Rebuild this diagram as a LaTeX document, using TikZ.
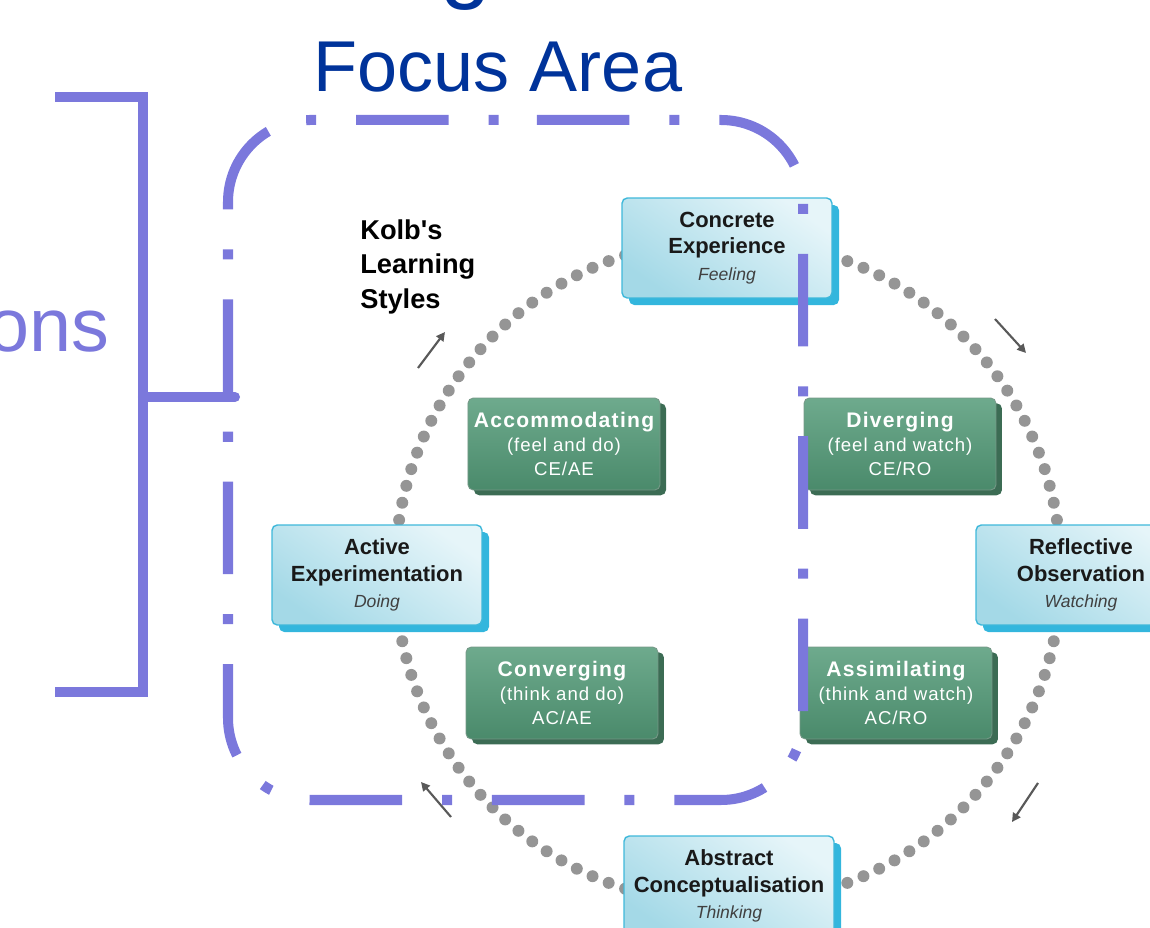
\documentclass[tikz,border=0pt]{standalone}
\usepackage{fontspec}
\setmainfont{Liberation Sans}
\usepackage{xcolor}
\usepackage{tikz}
\usetikzlibrary{arrows.meta,shadows}

\definecolor{focusblue}{HTML}{7B78DC}
\definecolor{titleblue}{HTML}{00339A}
\definecolor{dotgrey}{HTML}{959595}
\definecolor{stagehi}{HTML}{E6F5F9}
\definecolor{stagelo}{HTML}{A4D9E7}
\definecolor{stageline}{HTML}{3FB8DA}
\definecolor{stageside}{HTML}{33B6DD}
\definecolor{modehi}{HTML}{6EAA8D}
\definecolor{modelo}{HTML}{4A8A6B}
\definecolor{modeside}{HTML}{3C6C54}

\newcommand\stagesub[1]{{\fontsize{10}{15}\selectfont\mdseries\itshape\color{black!75}#1}}
\newcommand\modehead[1]{{\fontsize{12}{14}\selectfont\bfseries\addfontfeature{LetterSpace=6}#1}}

\tikzset{
  focusbox/.style  = {draw=focusblue, line width=5.7pt, rounded corners=1.64cm,
                      dash pattern=on 52.7pt off 22.7pt on 5.7pt off 22.7pt, dash phase=82.8pt},
  bracket/.style   = {draw=focusblue, line width=5.7pt},
  ringdot/.style   = {fill=dotgrey},
  stage/.style     = {draw=stageline, line width=0.8pt, rounded corners=3pt,
                      top color=stagehi, bottom color=stagelo, shading angle=-35,
                      minimum width=4.2cm, minimum height=2cm, align=center,
                      font=\fontsize{12.5}{15}\selectfont\bfseries, text=black!90,
                      drop shadow={shadow xshift=4pt, shadow yshift=-4pt, fill=stageside, opacity=1}},
  mode/.style      = {draw=modeside!70, line width=0.5pt, rounded corners=3pt,
                      top color=modehi, bottom color=modelo,
                      minimum width=3.84cm, minimum height=1.84cm, align=center, text=white,
                      font=\fontsize{10.6}{13.6}\selectfont\addfontfeature{LetterSpace=5},
                      drop shadow={shadow xshift=3.4pt, shadow yshift=-3pt, fill=modeside, opacity=1}},
  cyclearr/.style  = {-{Triangle[length=5pt,width=5pt]}, draw=black!65, line width=1.2pt},
  kolb/.style      = {font=\fontsize{15.5}{19.8}\selectfont\bfseries, align=left, anchor=north west, inner sep=0pt},
}

\begin{document}
\begin{tikzpicture}[x=0.02cm,y=-0.02cm]
  \useasboundingbox (0,0) rectangle (1150,928);
  \clip (0,0) rectangle (1150,928);

  % headings
  \node[anchor=base, inner sep=0pt, font=\fontsize{52}{60}\selectfont, text=titleblue] (headg) at (466,-8) {g};
  \node[anchor=base, inner sep=0pt, font=\fontsize{41}{49}\selectfont, text=titleblue] (focus) at (498,92) {Focus Area};
  \node[anchor=base east, inner sep=0pt, font=\fontsize{43}{50}\selectfont, text=focusblue] (ons) at (110,352) {ons};

  % bracket
  \draw[bracket] (55,97) -- (143,97) -- (143,692) -- (55,692);
  \draw[bracket, line cap=round] (143,397) -- (235,397);

  % dotted cycle
  \coordinate (ctr) at (728,572);
  \foreach \a in {0,3,...,357}
    \fill[ringdot] ([shift={(\a:333)}]ctr) circle (3.4pt);

  \foreach \i/\ax/\ay/\bx/\by in {1/418/368/445/332, 2/995/319/1026/353, 3/1038/783/1012/822, 4/451/817/421/782} {
    \coordinate (t\i) at (\ax,\ay);
    \coordinate (h\i) at (\bx,\by);
    \draw[cyclearr] (t\i) -- (h\i);
  }

  \node[kolb] (kolb) at (360,219) {Kolb\textquotesingle s\\Learning\\Styles};

  % four stages
  \foreach \n/\x/\y/\a/\b/\c in {%
    ce/727/248/Concrete/Experience/Feeling,
    ae/377/575/Active/Experimentation/Doing,
    ro/1081/575/Reflective/Observation/Watching,
    ac/729/886/Abstract/Conceptualisation/Thinking}
  {
    \node[stage] (\n) at (\x,\y) {\a\\\b\\\stagesub{\c}};
  }

  % four styles
  \foreach \n/\x/\y/\a/\b/\c in {%
    acc/564/444/Accommodating/{(feel and do)}/{CE/AE},
    div/900/444/Diverging/{(feel and watch)}/{CE/RO},
    con/562/693/Converging/{(think and do)}/{AC/AE},
    ass/896/693/Assimilating/{(think and watch)}/{AC/RO}}
  {
    \node[mode] (\n) at (\x,\y) {\modehead{\a}\\\b\\\c};
  }

  % focus frame on top
  \draw[focusbox] (418,120) -- (803,120) -- (803,800) -- (228,800) -- (228,120) -- cycle;
\end{tikzpicture}
\end{document}
